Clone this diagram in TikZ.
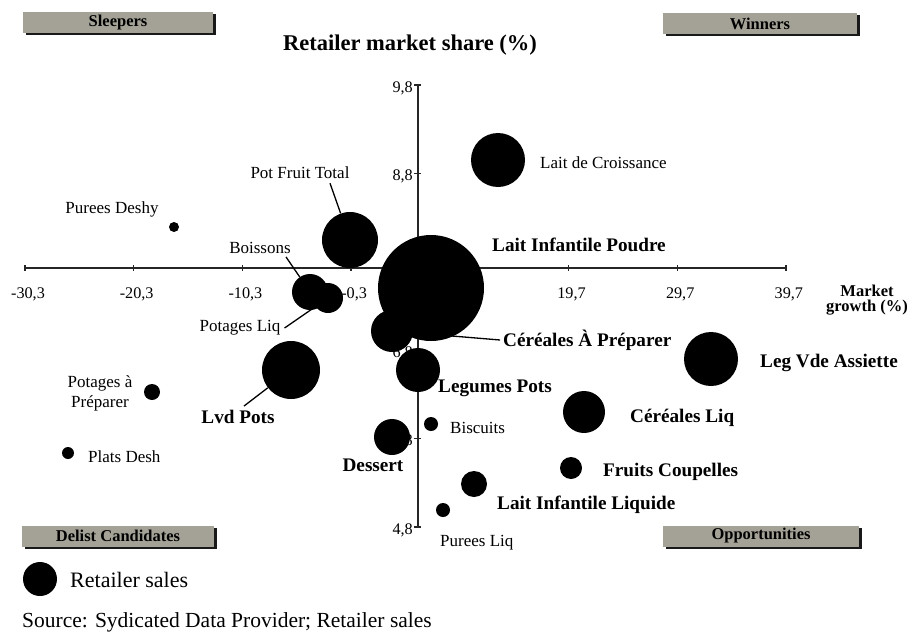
\documentclass[tikz,border=0pt]{standalone}
\usepackage{fontspec}
\setmainfont{Liberation Serif}
\usetikzlibrary{shadows}
\definecolor{boxgray}{RGB}{164,162,150}
\begin{document}
\begin{tikzpicture}[x=1pt,y=-1pt,
  bubble/.style={circle,fill=black,draw=none,inner sep=0pt,minimum size=#1},
  lbl/.style={inner sep=0pt,font=\fontsize{17}{19}\selectfont},
  blbl/.style={inner sep=0pt,font=\fontsize{19.2}{21}\selectfont\bfseries},
  ticklbl/.style={inner sep=0pt,font=\fontsize{16.2}{18}\selectfont},
  catbox/.style={fill=boxgray,minimum width=#1,minimum height=21pt,inner sep=0pt,
    font=\fontsize{16.5}{18}\selectfont\bfseries,
    drop shadow={shadow xshift=3pt,shadow yshift=-2pt,fill=black,opacity=0.9}},
  leader/.style={line width=1.3pt},
  axis/.style={line width=1.4pt,draw=black!85}
]
\useasboundingbox (0,0) rectangle (913,637);

% quadrant captions
\node[catbox=190pt] (sleepers) at (118,22.5) {Sleepers};
\node[catbox=194pt] (winners) at (760,23.5) {Winners};
\node[catbox=192pt] (delist) at (118,536) {Delist Candidates};
\node[catbox=196pt] (opport) at (761,536) {Opportunities};

% title
\node[inner sep=0pt,font=\fontsize{22.5}{24}\selectfont\bfseries] (title) at (410,45) {Retailer market share (\%)};

% axes
\coordinate (xl) at (25,268);
\coordinate (xr) at (786,268);
\coordinate (yt) at (418,85);
\coordinate (yb) at (418,527);
\draw[axis] (xl) -- (xr);
\draw[axis] (yt) -- (yb);
\foreach \i/\t in {0/-30{,}3,1/-20{,}3,2/-10{,}3,3/-0{,}3,4/9{,}7,5/19{,}7,6/29{,}7,7/39{,}7}{
  \draw[axis] ({25+108.7*\i},265) -- ({25+108.7*\i},271);
  \node[ticklbl] at ({28+108.7*\i},294) {\t};
}
\foreach \i/\t in {0/9{,}8,1/8{,}8,2/7{,}8,3/6{,}8,4/5{,}8,5/4{,}8}{
  \draw[axis] (414,{85+88.4*\i}) -- (421,{85+88.4*\i});
  \node[ticklbl,anchor=east] at (413,{85+88.4*\i+3}) {\t};
}
\node[inner sep=0pt,align=center,font=\fontsize{16.5}{15.5}\selectfont\bfseries] (xtitle) at (867,300) {Market\\growth (\%)};

% labels
\node[lbl,anchor=west] (lLaitCr) at (540,163) {Lait de Croissance};
\node[lbl] (lPotFruit) at (300,173) {Pot Fruit Total};
\node[blbl,anchor=west] (lLIP) at (492,245) {Lait Infantile Poudre};
\node[blbl,anchor=west] (lCerPrep) at (503,340) {Céréales À Préparer};
\node[blbl,anchor=west] (lLegPots) at (438,388) {Legumes Pots};
\node[lbl] (lBoissons) at (260,248) {Boissons};
\node[lbl] (lPotLiq) at (240,328) {Potages Liq};
\node[blbl] (lLvd) at (238,417) {Lvd Pots};
\node[lbl,align=center,font=\fontsize{17}{20}\selectfont] (lPotPrep) at (100,393) {Potages à\\Préparer};
\node[lbl,anchor=west] (lPlats) at (88,457) {Plats Desh};
\node[lbl] (lPurDeshy) at (112,209) {Purees Deshy};
\node[blbl] (lDessert) at (373,465) {Dessert};
\node[lbl,anchor=west] (lBiscuits) at (450,428) {Biscuits};
\node[blbl,anchor=west] (lLIL) at (497,505) {Lait Infantile Liquide};
\node[lbl,anchor=west] (lPurLiq) at (440,543) {Purees Liq};
\node[blbl,anchor=west] (lFruits) at (603,472) {Fruits Coupelles};
\node[blbl,anchor=west] (lCerLiq) at (630,418) {Céréales Liq};
\node[blbl,anchor=west] (lLegVde) at (760,363) {Leg Vde Assiette};

% bubbles
\node[bubble=54pt] (bLaitCr) at (498,160) {};
\node[bubble=56pt] (bPotFruit) at (350,240) {};
\node[bubble=42pt] (bCerPrep) at (392,331) {};
\node[bubble=44pt] (bLegPots) at (418,370) {};
\node[bubble=36pt] (bBoissons) at (310,292) {};
\node[bubble=30pt] (bPotLiq) at (328,298) {};
\node[bubble=58pt] (bLvd) at (291,370) {};
\node[bubble=16pt] (bPotPrep) at (152,392) {};
\node[bubble=12pt] (bPlats) at (68,453) {};
\node[bubble=10pt] (bPurDeshy) at (174,227) {};
\node[bubble=36pt] (bDessert) at (392,437) {};
\node[bubble=14pt] (bBiscuits) at (431,424) {};
\node[bubble=26pt] (bLIL) at (474,484) {};
\node[bubble=14pt] (bPurLiq) at (443,510) {};
\node[bubble=22pt] (bFruits) at (571,468) {};
\node[bubble=42pt] (bCerLiq) at (584,412) {};
\node[bubble=54pt] (bLegVde) at (711,359) {};

% leader lines
\draw[leader] ([xshift=30pt,yshift=-4pt]lPotFruit.south) -- (bPotFruit);
\draw[leader] ([xshift=26pt,yshift=-3pt]lBoissons.south) -- (bBoissons);
\draw[leader] ([xshift=4pt]lPotLiq.east) -- (bPotLiq);
\draw[leader] ([xshift=6pt,yshift=4pt]lLvd.north) -- (bLvd);
\draw[leader] ([xshift=-3pt]lCerPrep.west) -- (bCerPrep);

% largest bubble on top
\node[bubble=106pt] (bLIP) at (431,288) {};

% legend and source
\node[bubble=34pt] (legdot) at (40,579) {};
\node[lbl,anchor=west,font=\fontsize{22}{24}\selectfont] (legtxt) at (70,580) {Retailer sales};
\node[lbl,anchor=west,font=\fontsize{21.5}{24}\selectfont] (source) at (22,622) {Source: Sydicated Data Provider; Retailer sales};
\end{tikzpicture}
\end{document}
